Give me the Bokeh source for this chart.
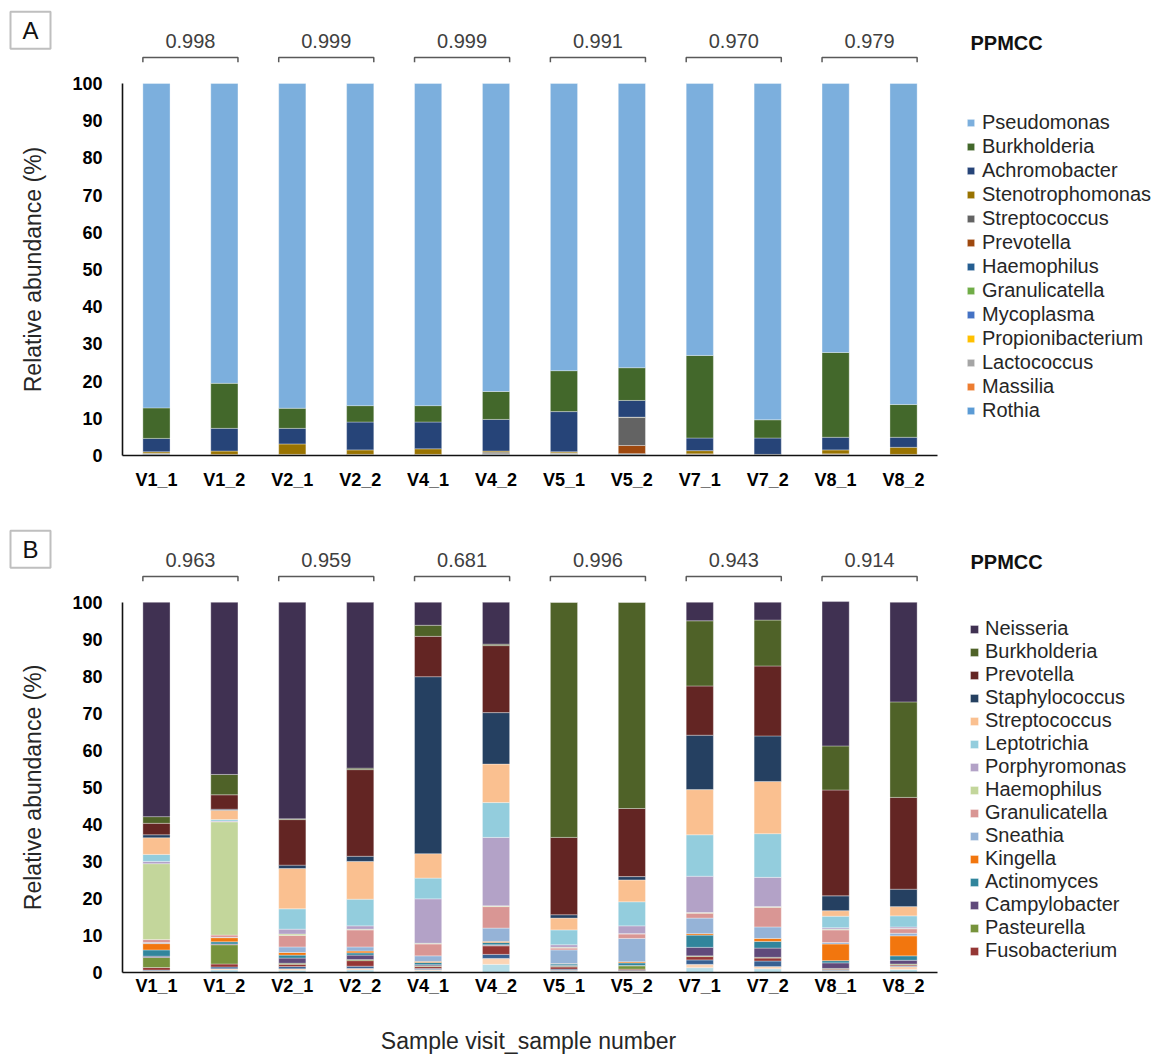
from bokeh.plotting import figure
from bokeh.models import (Range1d, Legend, LegendItem, Label, LinearAxis,
                          ColumnDataSource, FixedTicker)
from bokeh.layouts import column
from bokeh.embed import file_html
from bokeh.resources import INLINE

FONT = "Liberation Sans"

samples = ["V1_1", "V1_2", "V2_1", "V2_2", "V4_1", "V4_2",
           "V5_1", "V5_2", "V7_1", "V7_2", "V8_1", "V8_2"]

# ---------------- Panel A ----------------
ppmcc_a = ["0.998", "0.999", "0.999", "0.991", "0.970", "0.979"]
taxa_a = ["Pseudomonas", "Burkholderia", "Achromobacter", "Stenotrophomonas",
          "Streptococcus", "Prevotella", "Haemophilus", "Granulicatella",
          "Mycoplasma", "Propionibacterium", "Lactococcus", "Massilia", "Rothia"]
colors_a = ["#7CAFDD", "#43682B", "#264478", "#997300", "#636363", "#9E480E",
            "#255E91", "#70AD47", "#4472C4", "#FFC000", "#A5A5A5", "#ED7D31", "#5B9BD5"]
pseudomonas_a = [87.2, 80.6, 87.3, 86.6, 86.6, 82.8, 77.2, 76.4, 73.1, 90.4, 72.3, 86.3]
burkholderia_a = [8.2, 12.1, 5.4, 4.4, 4.4, 7.5, 11.0, 8.8, 22.2, 4.9, 22.8, 8.8]
achromobacter_a = [3.6, 6.1, 4.2, 7.5, 7.2, 8.5, 10.8, 4.5, 3.4, 4.4, 3.4, 2.7]
stenotrophomonas_a = [0.4, 0.9, 2.8, 1.2, 1.5, 0.3, 0.3, 0.1, 0.85, 0.1, 1.05, 1.9]
streptococcus_a = [0.1, 0.05, 0.05, 0.05, 0.05, 0.4, 0.15, 7.5, 0.05, 0.02, 0.05, 0.05]
prevotella_a = [0.1, 0.05, 0.05, 0.05, 0.05, 0.1, 0.1, 2.2, 0.1, 0.03, 0.1, 0.05]
haemophilus_a = [0.1, 0.05, 0.05, 0.05, 0.05, 0.1, 0.1, 0.2, 0.1, 0.03, 0.1, 0.05]
granulicatella_a = [0.05, 0.05, 0.05, 0.05, 0.05, 0.05, 0.1, 0.05, 0.05, 0.02, 0.05, 0.05]
mycoplasma_a = [0.05, 0.02, 0.02, 0.02, 0.02, 0.05, 0.05, 0.05, 0.03, 0.02, 0.03, 0.02]
propionibacterium_a = [0.05, 0.02, 0.02, 0.02, 0.02, 0.05, 0.05, 0.05, 0.03, 0.02, 0.03, 0.02]
lactococcus_a = [0.05, 0.02, 0.02, 0.02, 0.02, 0.05, 0.05, 0.05, 0.03, 0.02, 0.03, 0.02]
massilia_a = [0.05, 0.02, 0.02, 0.02, 0.02, 0.05, 0.05, 0.05, 0.03, 0.02, 0.03, 0.02]
rothia_a = [0.05, 0.02, 0.02, 0.02, 0.02, 0.05, 0.05, 0.05, 0.03, 0.02, 0.03, 0.02]
series_a = [pseudomonas_a, burkholderia_a, achromobacter_a, stenotrophomonas_a,
            streptococcus_a, prevotella_a, haemophilus_a, granulicatella_a,
            mycoplasma_a, propionibacterium_a, lactococcus_a, massilia_a, rothia_a]

# ---------------- Panel B ----------------
ppmcc_b = ["0.963", "0.959", "0.681", "0.996", "0.943", "0.914"]
taxa_b = ["Neisseria", "Burkholderia", "Prevotella", "Staphylococcus",
          "Streptococcus", "Leptotrichia", "Porphyromonas", "Haemophilus",
          "Granulicatella", "Sneathia", "Kingella", "Actinomyces",
          "Campylobacter", "Pasteurella", "Fusobacterium"]
colors_b = ["#403152", "#4F6228", "#632523", "#254061", "#FAC090", "#93CDDD",
            "#B3A2C7", "#C3D69B", "#D99694", "#95B3D7", "#F2760E", "#31859C",
            "#604A7B", "#77933C", "#953735"]
neisseria_b = [57.9, 46.5, 58.5, 44.8, 6.2, 11.3, 0.0, 0.0, 5.0, 4.8, 39.0, 26.9]
burkholderia_b = [1.8, 5.5, 0.2, 0.4, 3.0, 0.4, 63.5, 55.7, 17.6, 12.4, 11.9, 25.8]
prevotella_b = [3.1, 3.9, 12.3, 23.4, 10.9, 18.1, 20.9, 18.4, 13.3, 18.9, 28.6, 24.8]
staphylococcus_b = [0.8, 0.3, 0.9, 1.4, 47.8, 13.9, 0.9, 0.9, 14.7, 12.3, 4.0, 4.7]
streptococcus_b = [4.5, 2.5, 10.9, 10.2, 6.6, 10.4, 3.2, 5.9, 12.2, 14.1, 1.5, 2.5]
leptotrichia_b = [1.9, 0.4, 5.5, 7.2, 5.6, 9.4, 4.0, 6.5, 11.2, 11.8, 3.1, 3.0]
porphyromonas_b = [0.6, 0.2, 1.3, 0.9, 12.0, 18.5, 0.7, 2.1, 9.8, 7.9, 0.4, 0.4]
haemophilus_b = [20.5, 30.6, 0.4, 0.2, 0.2, 0.2, 0.2, 0.1, 0.2, 0.2, 0.2, 0.1]
granulicatella_b = [0.8, 0.6, 3.1, 4.6, 3.2, 5.8, 0.5, 1.2, 1.3, 5.3, 3.4, 1.2]
sneathia_b = [0.3, 0.1, 1.5, 1.1, 1.5, 3.6, 3.7, 6.3, 4.2, 3.1, 0.4, 0.7]
kingella_b = [1.7, 1.1, 0.7, 0.5, 0.3, 0.3, 0.1, 0.3, 0.4, 0.8, 4.5, 5.4]
actinomyces_b = [1.7, 0.6, 0.8, 0.6, 0.6, 0.6, 0.4, 0.7, 3.3, 1.8, 0.6, 1.2]
campylobacter_b = [0.35, 0.2, 1.4, 1.2, 0.3, 0.2, 0.2, 0.1, 2.3, 2.5, 1.5, 1.0]
pasteurella_b = [2.7, 5.2, 0.3, 0.3, 0.2, 0.1, 0.2, 0.9, 0.2, 0.2, 0.2, 0.2]
fusobacterium_b = [0.7, 0.8, 0.6, 1.5, 0.5, 2.3, 0.6, 0.3, 0.9, 0.8, 0.2, 0.3]
series_b = [neisseria_b, burkholderia_b, prevotella_b, staphylococcus_b,
            streptococcus_b, leptotrichia_b, porphyromonas_b, haemophilus_b,
            granulicatella_b, sneathia_b, kingella_b, actinomyces_b,
            campylobacter_b, pasteurella_b, fusobacterium_b]
# minor genera drawn at the bottom of panel B stacks but not listed in the legend
unlisted_colors_b = ["#376092", "#FCD5B5", "#B7DEE8"]
other1_b = [0.2, 0.5, 0.6, 0.6, 0.3, 1.1, 0.3, 0.2, 1.2, 1.5, 0.2, 0.2]
other2_b = [0.15, 0.3, 0.4, 0.4, 0.3, 1.6, 0.2, 0.1, 0.9, 0.6, 0.2, 0.8]
other3_b = [0.3, 0.7, 0.6, 0.7, 0.5, 2.2, 0.4, 0.3, 1.3, 1.0, 0.3, 0.8]
unlisted_series_b = [other1_b, other2_b, other3_b]

# ---------------- layout constants (pixels) ----------------
FIG_W = 1160
AXIS_LEFT_PX = 122          # left end of the category axis
PX_PER_CAT = 815 / 12.0     # width of one category slot
BAR_W = 0.4                 # bar width in category units


def px2x(px):
    # canvas x pixel -> data x (category index units, bar i centred at i)
    return (px - AXIS_LEFT_PX) / PX_PER_CAT - 0.5


def make_panel(letter, taxa, colors, series, ppmcc, fig_h, zero_px, px_per_unit,
               legend_xy, legend_lh, glyph_sz, label_standoff, x_standoff,
               extra_colors=(), extra_series=(), xlabel=None, xlabel_px=None):
    def py2y(py):
        return (zero_px - py) / px_per_unit

    xr = Range1d(px2x(0), px2x(FIG_W))
    yr = Range1d(py2y(fig_h), py2y(0))
    p = figure(x_range=xr, y_range=yr, frame_width=FIG_W, frame_height=fig_h,
               min_border=0, x_axis_type=None, y_axis_type=None,
               output_backend="svg", toolbar_location=None)
    p.outline_line_color = None
    p.grid.visible = False
    p.background_fill_color = "white"

    xpos = list(range(len(samples)))
    data = {"x": xpos}
    keys = []
    for i, vals in enumerate(series):
        k = "t%d" % i
        data[k] = vals
        keys.append(k)
    ekeys = []
    for i, vals in enumerate(extra_series):
        k = "e%d" % i
        data[k] = vals
        ekeys.append(k)
    src = ColumnDataSource(data)

    stack_keys = list(reversed(ekeys)) + list(reversed(keys))
    stack_cols = list(reversed(list(extra_colors))) + list(reversed(colors))
    rends = p.vbar_stack(stack_keys, x="x", width=BAR_W, color=stack_cols,
                         source=src, line_color="white", line_width=0.6,
                         line_alpha=0.55)
    rmap = dict(zip(stack_keys, rends))

    items = [LegendItem(label=name, renderers=[rmap[k]]) for name, k in zip(taxa, keys)]
    legend = Legend(items=items, location=legend_xy, padding=0, margin=0,
                    spacing=0, label_height=legend_lh, glyph_height=glyph_sz,
                    glyph_width=glyph_sz, label_standoff=label_standoff,
                    border_line_color=None, background_fill_alpha=0,
                    label_text_font=FONT, label_text_font_size="20px",
                    label_text_color="#262626")
    p.add_layout(legend)

    # y axis fixed at the left edge of the category area
    ya = LinearAxis(fixed_location=-0.5, bounds=(0, 100),
                    ticker=FixedTicker(ticks=list(range(0, 101, 10))))
    ya.major_tick_line_color = None
    ya.minor_tick_line_color = None
    ya.major_tick_out = 0
    ya.major_label_standoff = 20
    ya.major_label_text_font = FONT
    ya.major_label_text_font_style = "bold"
    ya.major_label_text_font_size = "18px"
    ya.major_label_text_color = "#000000"
    ya.axis_line_width = 1.6
    ya.axis_line_color = "#111111"
    p.add_layout(ya, "left")

    # category axis fixed at y = 0
    xa = LinearAxis(fixed_location=0, bounds=(-0.5, len(samples) - 0.5),
                    ticker=FixedTicker(ticks=xpos),
                    major_label_overrides={i: s for i, s in enumerate(samples)})
    xa.major_tick_line_color = None
    xa.minor_tick_line_color = None
    xa.major_tick_out = 0
    xa.major_label_standoff = x_standoff
    xa.major_label_text_font = FONT
    xa.major_label_text_font_style = "bold"
    xa.major_label_text_font_size = "18px"
    xa.major_label_text_color = "#000000"
    xa.axis_line_width = 1.6
    xa.axis_line_color = "#111111"
    p.add_layout(xa, "below")

    # y-axis title
    p.add_layout(Label(x=px2x(32), y=50, text="Relative abundance (%)",
                       angle=90, angle_units="deg", text_align="center",
                       text_baseline="middle", text_font=FONT,
                       text_font_size="23px", text_color="#262626"))

    # PPMCC brackets between each pair of bars
    b_top = 107.0
    b_low = 105.7
    xs, ys = [], []
    for k in range(len(ppmcc)):
        left = 2 * k - BAR_W / 2
        right = 2 * k + 1 + BAR_W / 2
        xs.append([left, left, right, right])
        ys.append([b_low, b_top, b_top, b_low])
        p.add_layout(Label(x=2 * k + 0.5, y=111.5, text=ppmcc[k],
                           text_align="center", text_baseline="middle",
                           text_font=FONT, text_font_size="20px",
                           text_color="#404040"))
    p.multi_line(xs=xs, ys=ys, line_color="#595959", line_width=1.5)

    p.add_layout(Label(x=px2x(970), y=110.8, text="PPMCC",
                       text_align="left", text_baseline="middle", text_font=FONT,
                       text_font_style="bold", text_font_size="20px",
                       text_color="#111111"))

    # panel letter box
    p.add_layout(Label(x=px2x(30), y=114.3, text=letter,
                       text_align="center", text_baseline="middle", text_font=FONT,
                       text_font_size="24px", text_color="#111111",
                       border_line_color="#BFBFBF", border_line_width=2,
                       background_fill_color="white", padding=(12, 5)))

    if xlabel:
        p.add_layout(Label(x=px2x(528), y=py2y(xlabel_px), text=xlabel,
                           text_align="center", text_baseline="middle",
                           text_font=FONT, text_font_size="23px",
                           text_color="#262626"))
    return p


# Panel A canvas: rows 0..518 ; zero line at 455 px, 3.72 px per %
pA = make_panel("A", taxa_a, colors_a, series_a, ppmcc_a, fig_h=518, zero_px=455,
                px_per_unit=3.72, legend_xy=(966, 96), legend_lh=24, glyph_sz=9,
                label_standoff=7, x_standoff=14)

# Panel B canvas: rows 518..1057 ; zero line at 972-518 = 454 px
pB = make_panel("B", taxa_b, colors_b, series_b, ppmcc_b, fig_h=539, zero_px=454,
                px_per_unit=3.702, legend_xy=(969, 95), legend_lh=23, glyph_sz=10,
                label_standoff=6, x_standoff=3,
                extra_colors=unlisted_colors_b, extra_series=unlisted_series_b,
                xlabel="Sample visit_sample number", xlabel_px=1040 - 518)

layout = column(pA, pB, spacing=0)
open("out.html", "w").write(file_html(layout, INLINE))
